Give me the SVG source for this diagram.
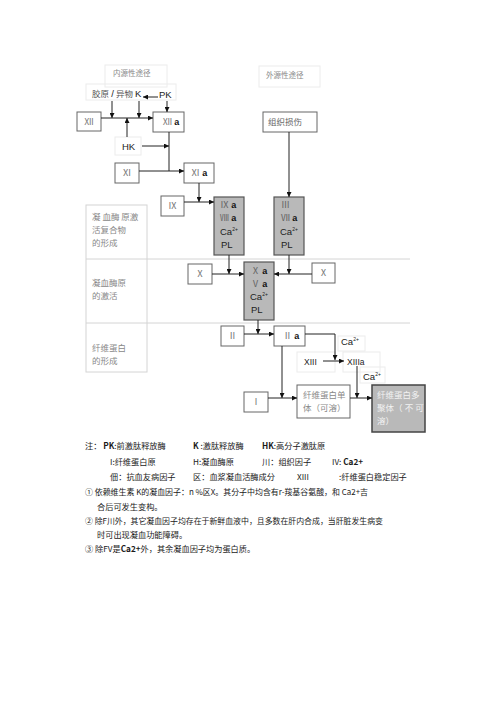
<svg xmlns="http://www.w3.org/2000/svg" width="500" height="707" viewBox="0 0 500 707">
<defs>
<marker id="ah" viewBox="0 0 6 6" refX="6" refY="3" markerWidth="5" markerHeight="5" orient="auto" markerUnits="userSpaceOnUse">
<path d="M0,0 L6,3 L0,6 Z" fill="#111"/>
</marker>
<style>
.box{fill:#fff;stroke:#666;stroke-width:1}
.gbox{fill:#b9b9b9;stroke:#555;stroke-width:1.2}
.faint{fill:none;stroke:#ececec;stroke-width:1}
.sep{stroke:#d4d4d4;stroke-width:1;fill:none}
.c{fill:none;stroke:#222;stroke-width:1}
.ca{fill:none;stroke:#222;stroke-width:1;marker-end:url(#ah)}
.rn{font-family:"Liberation Serif","Noto Sans CJK SC",serif;font-size:9px;fill:#777}
.bt{font-family:"Liberation Sans",Arial,sans-serif;font-size:9px;fill:#111;font-weight:bold}
.t{font-family:"Liberation Sans",Arial,sans-serif;font-size:9.5px;fill:#222}
.cj{font-family:"Liberation Serif","Noto Sans CJK SC",serif;font-size:8.5px;fill:#666}
.lab{font-family:"Noto Sans CJK SC",sans-serif;font-size:8.5px;fill:#888}
.note{font-family:"Noto Sans CJK SC",sans-serif;font-size:8.2px;fill:#1a1a1a}
.sup{font-size:5px}
</style>
</defs>

<!-- faint guide boxes -->
<g id="guides">
<rect class="faint" x="105" y="65" width="62" height="22"/>
<rect class="faint" x="259" y="66" width="61" height="21"/>
<rect class="faint" x="86" y="84" width="90" height="16"/>
<rect class="faint" x="115" y="137" width="26" height="18"/>
<rect class="faint" x="338" y="336" width="27" height="15"/>
<rect class="faint" x="297" y="352" width="38" height="20"/>
<rect class="faint" x="343" y="352" width="37" height="20"/>
<rect class="faint" x="360" y="367" width="25" height="16"/>
<rect class="sep" x="86" y="205" width="61" height="167"/>
<line class="sep" x1="86" y1="259" x2="410" y2="259"/>
<line class="sep" x1="86" y1="323" x2="410" y2="323"/>
</g>

<g id="labels">
<text class="lab" x="113" y="76" style="font-size:7.5px">内源性途径</text>
<text class="lab" x="266" y="78" style="font-size:7.5px">外源性途径</text>
<text class="cj" x="92" y="97" style="fill:#555">胶原 <tspan class="t">/</tspan> 异物</text>
<text class="t" x="135" y="97">K</text>
<text class="t" x="159" y="98">PK</text>
<text class="t" x="122" y="150">HK</text>
<text class="lab" x="92" y="220">凝 血酶 原激</text>
<text class="lab" x="92" y="233">活复合物</text>
<text class="lab" x="92" y="246">的形成</text>
<text class="lab" x="92" y="286">凝血酶原</text>
<text class="lab" x="92" y="299">的激活</text>
<text class="lab" x="92" y="351">纤维蛋白</text>
<text class="lab" x="92" y="364">的形成</text>
<text class="t" x="341" y="345">Ca<tspan class="sup" dy="-4">2+</tspan></text>
<text class="t" x="304" y="365" style="font-size:8.5px">XIII</text>
<text class="t" x="347" y="365" style="font-size:8.5px">XIIIa</text>
<text class="t" x="363" y="380">Ca<tspan class="sup" dy="-4">2+</tspan></text>
</g>

<g id="n-XII"><rect class="box" x="77" y="112" width="24" height="19"/><text class="rn" x="89" y="125" text-anchor="middle">Ⅻ</text></g>
<g id="n-XIIa"><rect class="box" x="153" y="112" width="31" height="20"/><text class="rn" x="163" y="125">Ⅻ <tspan class="bt">a</tspan></text></g>
<g id="n-tissue"><rect class="box" x="263" y="112" width="54" height="20"/><text class="cj" x="268" y="125">组织损伤</text></g>
<g id="n-XI"><rect class="box" x="115" y="163" width="24" height="20"/><text class="rn" x="127" y="176" text-anchor="middle">Ⅺ</text></g>
<g id="n-XIa"><rect class="box" x="184" y="163" width="30" height="20"/><text class="rn" x="191" y="176">Ⅺ <tspan class="bt">a</tspan></text></g>
<g id="n-IX"><rect class="box" x="161" y="196" width="23" height="20"/><text class="rn" x="172.5" y="209" text-anchor="middle">Ⅸ</text></g>
<g id="n-IXa">
<rect class="gbox" x="214" y="197" width="30" height="58"/>
<text class="rn" x="220" y="208" style="fill:#666">Ⅸ <tspan class="bt">a</tspan></text>
<text class="rn" x="220" y="221" style="fill:#666">Ⅷ <tspan class="bt">a</tspan></text>
<text class="t" x="220" y="235">Ca<tspan class="sup" dy="-4">2+</tspan></text>
<text class="t" x="221" y="248">PL</text>
</g>
<g id="n-III">
<rect class="gbox" x="274" y="197" width="30" height="58"/>
<text class="rn" x="281" y="208" style="fill:#666">Ⅲ</text>
<text class="rn" x="281" y="221" style="fill:#666">Ⅶ <tspan class="bt">a</tspan></text>
<text class="t" x="280" y="235">Ca<tspan class="sup" dy="-4">2+</tspan></text>
<text class="t" x="281" y="248">PL</text>
</g>
<g id="n-X1"><rect class="box" x="188" y="264" width="24" height="20"/><text class="rn" x="200" y="277" text-anchor="middle">Ⅹ</text></g>
<g id="n-X2"><rect class="box" x="312" y="263" width="23" height="20"/><text class="rn" x="323.5" y="276" text-anchor="middle">Ⅹ</text></g>
<g id="n-Xa">
<rect class="gbox" x="244" y="262" width="30" height="58"/>
<text class="rn" x="251" y="274" style="fill:#666">Ⅹ <tspan class="bt">a</tspan></text>
<text class="rn" x="251" y="287" style="fill:#666">Ⅴ <tspan class="bt">a</tspan></text>
<text class="t" x="250" y="300">Ca<tspan class="sup" dy="-4">2+</tspan></text>
<text class="t" x="251" y="313">PL</text>
</g>
<g id="n-II"><rect class="box" x="221" y="326" width="23" height="20"/><text class="rn" x="232.5" y="339" text-anchor="middle">Ⅱ</text></g>
<g id="n-IIa"><rect class="box" x="274" y="326" width="31" height="20"/><text class="rn" x="283" y="339">Ⅱ <tspan class="bt">a</tspan></text></g>
<g id="n-I"><rect class="box" x="244" y="392" width="24" height="20"/><text class="rn" x="256" y="405" text-anchor="middle">Ⅰ</text></g>
<g id="n-mono"><rect class="box" x="297" y="385" width="53" height="33"/>
<text class="cj" x="303" y="398" style="fill:#888">纤维蛋白单</text>
<text class="cj" x="303" y="411" style="fill:#888">体（可溶）</text></g>
<g id="n-poly"><rect class="gbox" x="372" y="385" width="53" height="47" style="stroke:#444;stroke-width:1.5"/>
<text class="cj" x="377" y="398" style="fill:#f2f2f2">纤维蛋白多</text>
<text class="cj" x="377" y="411" style="fill:#f2f2f2">聚体（ 不 可</text>
<text class="cj" x="377" y="424" style="fill:#f2f2f2">溶）</text></g>

<g id="connectors">
<path class="ca" d="M112,101 V118"/>
<path class="ca" d="M139,101 V118"/>
<path class="ca" d="M158,97 H143"/>
<path class="ca" d="M167,101 V112"/>
<path class="ca" d="M101,118 H153"/>
<path class="ca" d="M127,137 V118"/>
<path class="c" d="M169,132 V171"/>
<path class="ca" d="M142,146 H169"/>
<path class="ca" d="M139,171 H184"/>
<path class="ca" d="M199,183 V202"/>
<path class="ca" d="M184,202 H214"/>
<path class="ca" d="M289,132 V197"/>
<path class="ca" d="M229,255 V274"/>
<path class="ca" d="M212,274 H244"/>
<path class="ca" d="M289,255 V274"/>
<path class="ca" d="M312,274 H274"/>
<path class="ca" d="M258,320 V334"/>
<path class="ca" d="M244,334 H274"/>
<path class="ca" d="M305,334 H335 V360"/>
<path class="ca" d="M323,361 H344"/>
<path class="ca" d="M282,346 V398"/>
<path class="ca" d="M268,398 H297"/>
<path class="ca" d="M357,366 V398"/>
<path class="ca" d="M350,398 H372"/>
</g>

<g id="notes">
<text class="note" x="85" y="449">注：  <tspan style="font-weight:bold">PK</tspan>:前激肽释放酶</text>
<text class="note" x="193" y="449"><tspan style="font-weight:bold">K</tspan> :激肽释放酶</text>
<text class="note" x="262" y="449"><tspan style="font-weight:bold">HK</tspan>:高分子激肽原</text>
<text class="note" x="110" y="465">I:纤维蛋白原</text>
<text class="note" x="193" y="465">H:凝血酶原</text>
<text class="note" x="262" y="465">川：组织因子</text>
<text class="note" x="332" y="465">IV: <tspan style="font-weight:bold">Ca2+</tspan></text>
<text class="note" x="110" y="480">佃：抗血友病因子</text>
<text class="note" x="193" y="480">区：血浆凝血活酶成分</text>
<text class="note" x="297" y="480">XIII</text>
<text class="note" x="339" y="480">:纤维蛋白稳定因子</text>
<text class="note" x="85" y="495" textLength="283" lengthAdjust="spacingAndGlyphs">①  依赖维生素  K的凝血因子：n %区X。其分子中均含有r-羧基谷氨酸，和  Ca2+吉</text>
<text class="note" x="97" y="510">合后可发生变构。</text>
<text class="note" x="85" y="524" textLength="298" lengthAdjust="spacingAndGlyphs">②  除F川外，其它凝血因子均存在于新鲜血液中，且多数在肝内合成，当肝脏发生病变</text>
<text class="note" x="97" y="538">时可出现凝血功能障碍。</text>
<text class="note" x="85" y="552">③  除FV是<tspan style="font-weight:bold">Ca2+</tspan>外，其余凝血因子均为蛋白质。</text>
</g>
</svg>
